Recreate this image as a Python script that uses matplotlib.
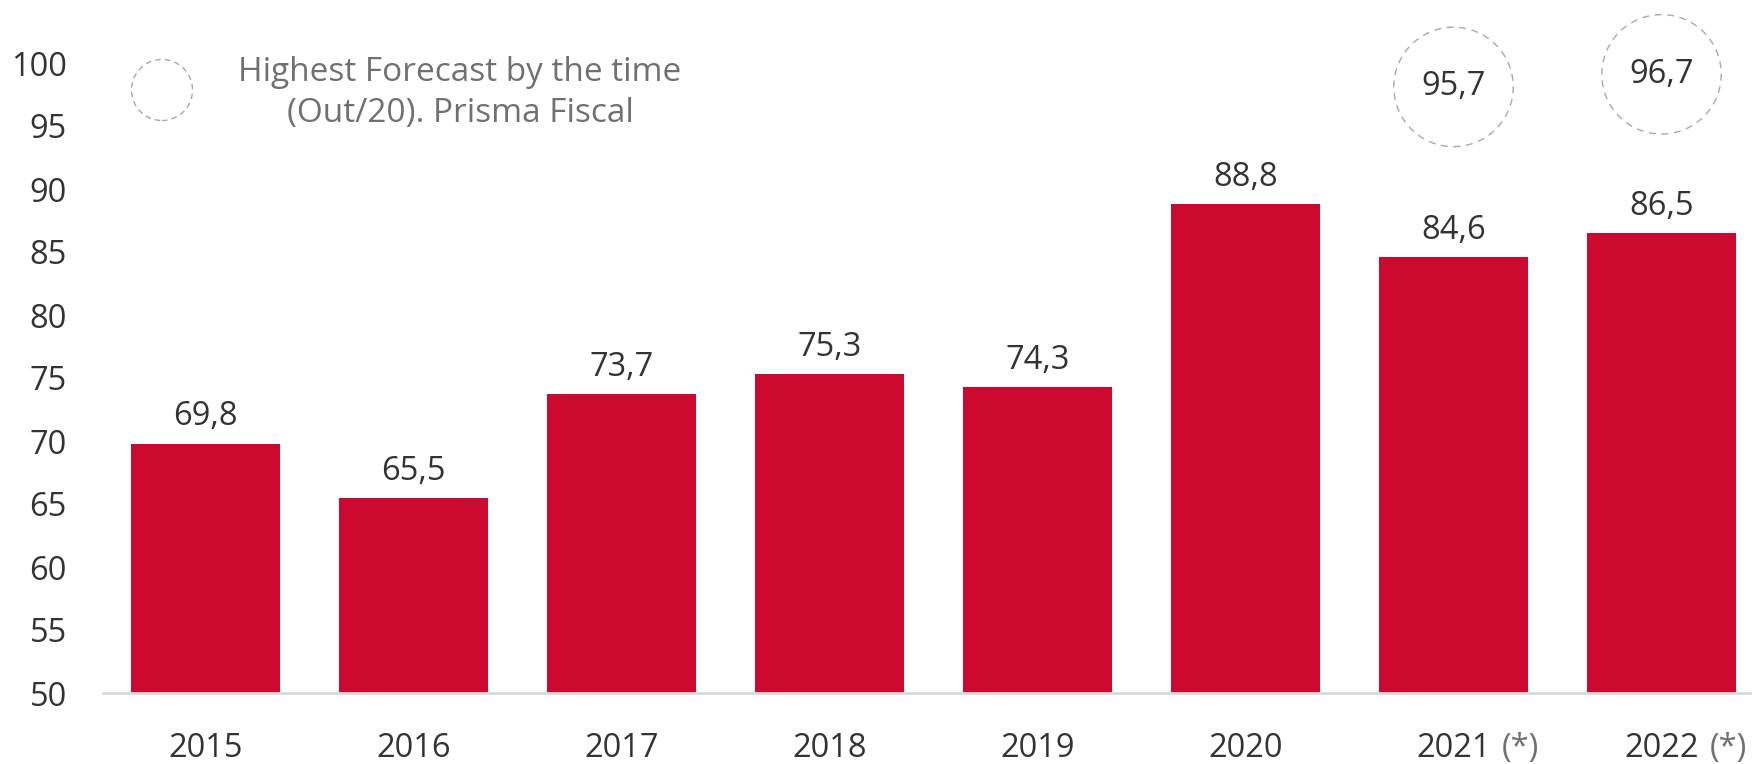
import matplotlib
matplotlib.use("Agg")
import matplotlib.pyplot as plt

plt.rcParams['font.family'] = ['Open Sans', 'DejaVu Sans']

# Data
years = ["2015", "2016", "2017", "2018", "2019", "2020", "2021", "2022"]
values = [69.8, 65.5, 73.7, 75.3, 74.3, 88.8, 84.6, 86.5]
value_labels = ["69,8", "65,5", "73,7", "75,3", "74,3", "88,8", "84,6", "86,5"]
estimated = [False, False, False, False, False, False, True, True]
forecast_years = ["2021", "2022"]
forecast_values = [95.7, 96.7]
forecast_labels = ["95,7", "96,7"]
y_ticks = [50, 55, 60, 65, 70, 75, 80, 85, 90, 95, 100]
legend_text = "Highest Forecast by the time\n(Out/20). Prisma Fiscal"

BAR_COLOR = "#CC0A2F"
TEXT_COLOR = "#333333"
GREY_TEXT = "#707070"
CIRCLE_COLOR = "#A8A8A8"
FS = 23.5

W, H, DPI = 1752, 764, 100
fig = plt.figure(figsize=(W / DPI, H / DPI), dpi=DPI)
ax = fig.add_axes([103 / W, (H - 693) / H, 1 - 103 / W, (693 - 63) / H])

x = list(range(len(years)))
ax.bar(x, [v - 50 for v in values], bottom=50, width=0.714, color=BAR_COLOR, zorder=2)

ax.set_xlim(-0.493, 7.435)
ax.set_ylim(50, 100)

for s in ["top", "right", "left"]:
    ax.spines[s].set_visible(False)
ax.spines["bottom"].set_color("#D9D9D9")
ax.spines["bottom"].set_linewidth(2)

ax.set_yticks(y_ticks)
ax.set_yticklabels([str(t) for t in y_ticks])
ax.tick_params(axis="y", length=0, pad=26, labelsize=FS, labelcolor=TEXT_COLOR)
ax.set_xticks([])

# value labels above bars
for xi, v, lab in zip(x, values, value_labels):
    ax.annotate(lab, xy=(xi, v), xytext=(0, 13), textcoords="offset points",
                ha="center", va="baseline", fontsize=FS, color=TEXT_COLOR)

# year labels, with an asterisk note for estimates
trans = ax.get_xaxis_transform()
for xi, yr, est in zip(x, years, estimated):
    t = ax.annotate(yr, xy=(xi, 0), xycoords=trans, xytext=(0, -40),
                    textcoords="offset points", ha="center", va="center",
                    fontsize=FS, color=TEXT_COLOR, annotation_clip=False)
    if est:
        ax.annotate("(*)", xy=(1, 0.5), xycoords=t, xytext=(8, 0),
                    textcoords="offset points", ha="left", va="center",
                    fontsize=FS, color=GREY_TEXT, annotation_clip=False)

# forecast circles
offset = 2.4
for fy, fv, fl in zip(forecast_years, forecast_values, forecast_labels):
    xi = years.index(fy)
    ax.scatter([xi], [fv + offset], s=86 ** 2, facecolors="none",
               edgecolors=CIRCLE_COLOR, linewidths=1.0, linestyles=(0, (5, 4)),
               clip_on=False, zorder=3)
    ax.text(xi, fv + offset, fl, ha="center", va="center", fontsize=FS,
            color=TEXT_COLOR, zorder=4)

# legend key
ax_leg = fig.add_axes([0, 0, 1, 1], facecolor="none")
ax_leg.set_xlim(0, W)
ax_leg.set_ylim(H, 0)
ax_leg.axis("off")
ax_leg.scatter([162], [90], s=44 ** 2, facecolors="none", edgecolors=CIRCLE_COLOR,
               linewidths=1.0, linestyles=(0, (4, 3)))
ax_leg.text(460, 93, legend_text, ha="center", va="center", fontsize=24,
            color=GREY_TEXT, linespacing=1.32)

fig.savefig("out.png", dpi=DPI)
